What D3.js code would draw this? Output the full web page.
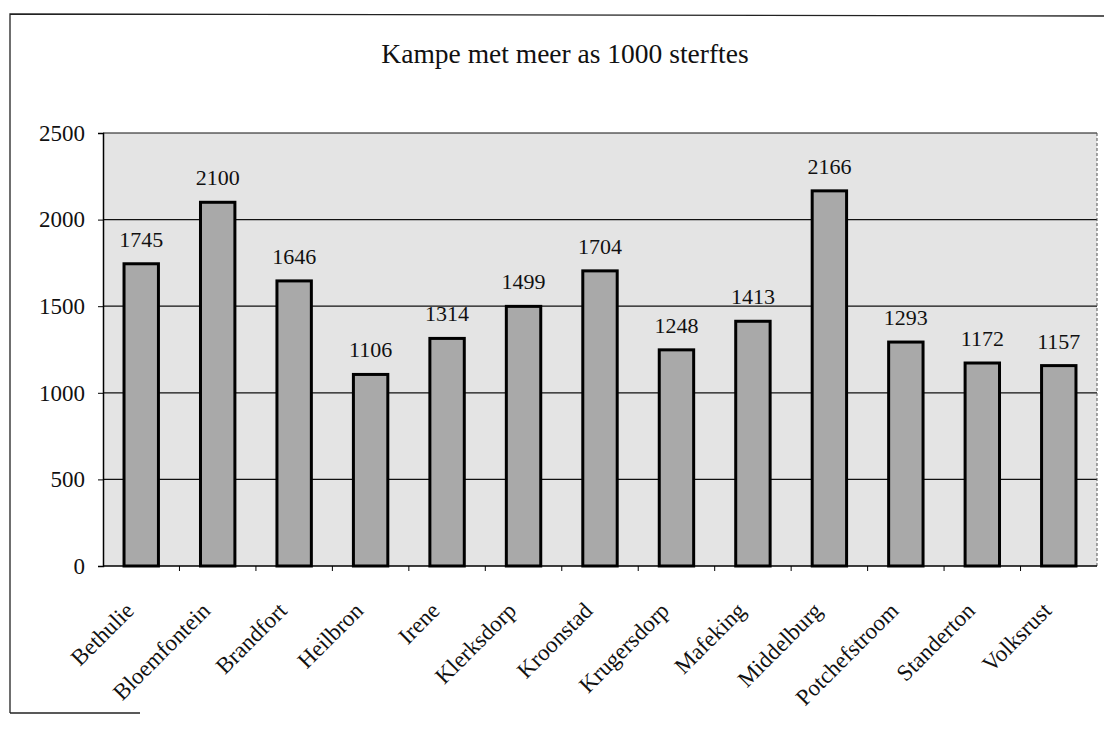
<!DOCTYPE html>
<html><head><meta charset="utf-8">
<script src="https://cdn.jsdelivr.net/npm/d3@7"></script>
<style>body{margin:0;background:#fff;} svg{display:block;}</style>
</head><body>
<svg id="c" width="1105" height="737"></svg>
<script>
const categories = ["Bethulie","Bloemfontein","Brandfort","Heilbron","Irene","Klerksdorp","Kroonstad","Krugersdorp","Mafeking","Middelburg","Potchefstroom","Standerton","Volksrust"];
const deaths = [1745,2100,1646,1106,1314,1499,1704,1248,1413,2166,1293,1172,1157];
const yTicks = [0,500,1000,1500,2000,2500];
const title = "Kampe met meer as 1000 sterftes";

const svg = d3.select("#c");
const font = "'Liberation Serif','Times New Roman',serif";
const m = {l:103, r:1097, t:133, b:566};

// outer frame
svg.append("path").attr("d","M10,713 L10,14 L1104,16").attr("fill","none").attr("stroke","#222").attr("stroke-width",1.3);
svg.append("path").attr("d","M10,713 L140,713").attr("fill","none").attr("stroke","#222").attr("stroke-width",1.3);

svg.append("text").attr("x",565).attr("y",63).attr("text-anchor","middle")
  .attr("font-family",font).attr("font-size",27.5).attr("fill","#111").text(title);

const x = d3.scaleBand().domain(categories).range([m.l,m.r]).paddingInner(0.55).paddingOuter(0.275);
const y = d3.scaleLinear().domain([0,2500]).range([m.b,m.t]);

// plot background
svg.append("rect").attr("x",m.l).attr("y",m.t).attr("width",m.r-m.l).attr("height",m.b-m.t)
  .attr("fill","#e4e4e4");

// gridlines
svg.append("g").selectAll("line").data(yTicks.filter(d=>d>0)).join("line")
  .attr("x1",m.l).attr("x2",m.r).attr("y1",d=>y(d)).attr("y2",d=>y(d))
  .attr("stroke","#111").attr("stroke-width",1.2);
// right border
svg.append("line").attr("x1",m.r).attr("x2",m.r).attr("y1",m.t).attr("y2",m.b)
  .attr("stroke","#555").attr("stroke-width",1).attr("stroke-dasharray","3,2");

// bars
svg.append("g").selectAll("rect").data(deaths).join("rect")
  .attr("x",(d,i)=>x(categories[i])).attr("width",x.bandwidth())
  .attr("y",d=>y(d)).attr("height",d=>y(0)-y(d))
  .attr("fill","#a9a9a9").attr("stroke","#000").attr("stroke-width",3);

// value labels
svg.append("g").selectAll("text").data(deaths).join("text")
  .attr("x",(d,i)=>x(categories[i])+x.bandwidth()/2).attr("y",d=>y(d)-17)
  .attr("text-anchor","middle").attr("font-family",font).attr("font-size",22).attr("fill","#111")
  .text(d=>d);

// y axis
const ya = svg.append("g").attr("transform",`translate(${m.l},0)`)
  .call(d3.axisLeft(y).tickValues(yTicks).tickSize(5).tickPadding(13).tickFormat(d3.format("d")));
ya.select(".domain").attr("stroke","#000").attr("stroke-width",1.5);
ya.selectAll(".tick line").attr("stroke","#000");
ya.selectAll("text").attr("font-family",font).attr("font-size",23).attr("fill","#111");

// x axis
const xa = svg.append("g").attr("transform",`translate(0,${m.b})`)
  .call(d3.axisBottom(x).tickSize(0).tickPadding(0));
xa.select(".domain").remove();
svg.append("line").attr("x1",m.l).attr("x2",m.r).attr("y1",m.b).attr("y2",m.b).attr("stroke","#000").attr("stroke-width",1.5);
// category separator ticks
svg.append("g").selectAll("line").data(categories.slice(1)).join("line")
  .attr("x1",d=>x(d)-x.step()*x.paddingInner()/2).attr("x2",d=>x(d)-x.step()*x.paddingInner()/2)
  .attr("y1",m.b).attr("y2",m.b+5).attr("stroke","#000");
xa.selectAll("text")
  .attr("font-family",font).attr("font-size",23).attr("fill","#111")
  .attr("text-anchor","end").attr("dy",0)
  .attr("transform","translate(-6,46) rotate(-45)");
</script>
</body></html>
